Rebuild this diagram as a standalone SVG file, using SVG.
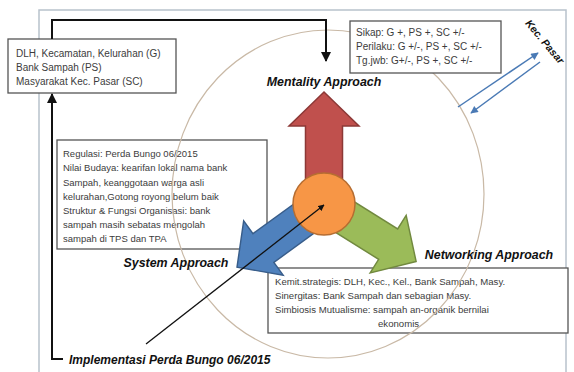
<svg xmlns="http://www.w3.org/2000/svg" width="574" height="372" viewBox="0 0 574 372">
<style>
.box{fill:#fff;stroke:#555;stroke-width:1.3}
.t{font-family:"Liberation Sans",Arial,sans-serif;font-size:10px;fill:#3c3c3c}
.t95{font-size:9.5px}
.t96{font-size:9.6px}
.lbl{font-family:"Liberation Sans",Arial,sans-serif;font-size:12.4px;font-weight:bold;font-style:italic;fill:#111}
.kec{font-size:10.5px}
.impl{font-size:12px}
.arr{stroke-width:1.5;stroke-linejoin:miter}
</style>
<defs>
<marker id="ah" viewBox="0 0 10 10" refX="9" refY="5" markerWidth="5" markerHeight="5" orient="auto" markerUnits="strokeWidth">
<path d="M0,0 L10,5 L0,10 Z" fill="#111"/>
</marker>
<marker id="ahb" viewBox="0 0 10 10" refX="9" refY="5" markerWidth="6" markerHeight="5" orient="auto" markerUnits="strokeWidth">
<path d="M0,0 L10,5 L0,10 Z" fill="#4a7ab5"/>
</marker>
<path id="bigarrow" d="M0,-112 L35,-78 L18.5,-78 L18.5,0 L-18.5,0 L-18.5,-78 L-35,-78 Z"/>
</defs>
<rect width="574" height="372" fill="#fff"/>
<rect x="39" y="10" width="527" height="380" fill="none" stroke="#b8c2cc" stroke-width="1.5"/>
<g id="actors">
<rect class="box" x="8" y="39" width="168" height="54"/>
<text class="t" x="16" y="57">DLH, Kecamatan, Kelurahan (G)</text>
<text class="t" x="16" y="71">Bank Sampah (PS)</text>
<text class="t" x="16" y="85">Masyarakat Kec. Pasar (SC)</text>
</g>
<g id="system-box">
<rect class="box" x="57" y="140" width="210" height="109"/>
<text class="t t95" x="63" y="157">Regulasi: Perda Bungo 06/2015</text>
<text class="t t95" x="63" y="171">Nilai Budaya: kearifan lokal nama bank</text>
<text class="t t95" x="63" y="185.5">Sampah, keanggotaan warga asli</text>
<text class="t t95" x="63" y="200">kelurahan,Gotong royong belum baik</text>
<text class="t t95" x="63" y="214">Struktur &amp; Fungsi Organisasi: bank</text>
<text class="t t95" x="63" y="228">sampah masih sebatas mengolah</text>
<text class="t t95" x="63" y="242">sampah di TPS dan TPA</text>
</g>
<g id="network-box">
<rect class="box" x="268" y="268" width="300" height="65"/>
<text class="t t96" x="275" y="285">Kemit.strategis: DLH, Kec., Kel., Bank Sampah, Masy.</text>
<text class="t t96" x="275" y="299">Sinergitas: Bank Sampah dan sebagian Masy.</text>
<text class="t t96" x="275" y="313">Simbiosis Mutualisme: sampah an-organik bernilai</text>
<text class="t t96" x="378" y="327">ekonomis</text>
</g>
<ellipse cx="328" cy="194" rx="156" ry="164" fill="none" stroke="#c9b9a6" stroke-width="1.2"/>
<g id="attitudes">
<rect class="box" x="350" y="21" width="151" height="52"/>
<text class="t" x="356" y="36">Sikap: G +, PS +, SC +/-</text>
<text class="t" x="356" y="50">Perilaku: G +/-, PS +, SC +/-</text>
<text class="t" x="356" y="64">Tg.jwb: G+/-, PS +, SC +/-</text>
</g>
<g id="arrow-mentality">
<use href="#bigarrow" transform="translate(324,204)" fill="#c0504d" stroke="#8c3836" class="arr"/>
</g>
<g id="arrow-networking">
<use href="#bigarrow" transform="translate(324,204) rotate(122) scale(0.97)" fill="#9bbb59" stroke="#71893f" class="arr"/>
</g>
<g id="arrow-system">
<use href="#bigarrow" transform="translate(324,204) rotate(-126) scale(0.96)" fill="#4f81bd" stroke="#385d8a" class="arr"/>
</g>
<g id="hub">
<circle cx="324" cy="204" r="31" fill="#f79646" stroke="#b66d31" stroke-width="1.5"/>
</g>
<g id="kec-pasar">
<text class="lbl kec" text-anchor="middle" transform="translate(542,44) rotate(50)">Kec. Pasar</text>
</g>
<g id="labels">
<text class="lbl" x="324" y="86" text-anchor="middle">Mentality Approach</text>
<text class="lbl" x="176" y="267" text-anchor="middle">System Approach</text>
<text class="lbl" x="489" y="259" text-anchor="middle">Networking Approach</text>
<text class="lbl impl" x="69" y="364">Implementasi Perda Bungo 06/2015</text>
</g>
<g id="connectors" fill="none">
<path d="M63,359 L52,359 L52,94" stroke="#111" stroke-width="2" marker-end="url(#ah)"/>
<path d="M52,39 L52,20 L326,20 L326,61" stroke="#111" stroke-width="2" marker-end="url(#ah)"/>
<path d="M146,344 L324,205" stroke="#111" stroke-width="1.3" marker-end="url(#ah)"/>
<path d="M458,107 L538,53" stroke="#4a7ab5" stroke-width="1.5" marker-end="url(#ahb)"/>
<path d="M540,62 L471,113" stroke="#4a7ab5" stroke-width="1.5" marker-end="url(#ahb)"/>
</g>
</svg>
